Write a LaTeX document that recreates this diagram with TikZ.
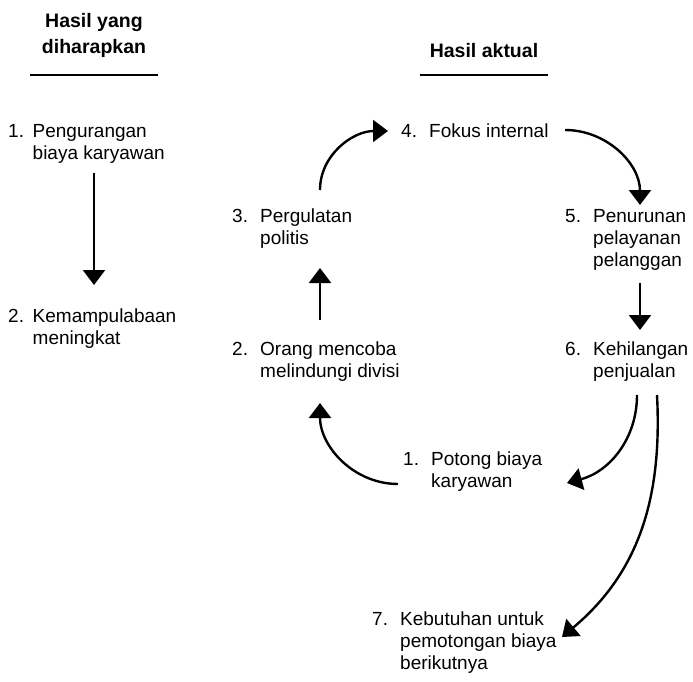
\documentclass[tikz,border=0pt]{standalone}
\usepackage{fontspec}
\setmainfont{Liberation Sans}
\usepackage{tikz}
\usetikzlibrary{arrows.meta, positioning}

% nomor dengan teks menggantung
\newcommand{\numitem}[3][28pt]{%
  \begin{tabular}[t]{@{}p{#1}@{}l@{}}#2&\begin{tabular}[t]{@{}l@{}}#3\end{tabular}\end{tabular}}

\begin{document}
\begin{tikzpicture}[
        x=1pt, y=-1pt,
        % Gaya umum
        every node/.style = {font=\fontsize{19}{22}\selectfont, inner sep=0pt},
        % Judul kolom
        heading/.style = {
            font=\fontsize{19.5}{26}\selectfont\bfseries,
            align=center,
            minimum width=128pt,
            anchor=south
        },
        % Butir bernomor
        item/.style = {anchor=base west},
        % Garis bawah judul
        rule/.style = {line width=2.6pt},
        % Panah
        arrow/.style = {
            -{Triangle[width=22pt,length=15pt]},
            line width=2.4pt
        }
    ]
        \useasboundingbox (0,0) rectangle (693,682);

        % 1. Judul
        \node (hexp) [heading] at (94,58) {Hasil yang\\diharapkan};
        \node (hact) [heading] at (484,58) {Hasil aktual};
        \draw [rule] ([yshift=-17pt]hexp.south west) -- ([yshift=-17pt]hexp.south east);
        \draw [rule] ([yshift=-17pt]hact.south west) -- ([yshift=-17pt]hact.south east);

        % 2. Kolom kiri
        \node (exp1) [item] at (8,138) {\numitem[24.5pt]{1.}{Pengurangan\\biaya karyawan}};
        \node (exp2) [item] at (8,322) {\numitem[24.5pt]{2.}{Kemampulabaan\\meningkat}};

        % 3. Kolom kanan
        \node (act4) [item] at (401,138) {\numitem{4.}{Fokus internal}};
        \node (act3) [item] at (232,222) {\numitem{3.}{Pergulatan\\politis}};
        \node (act5) [item] at (565,222) {\numitem{5.}{Penurunan\\pelayanan\\pelanggan}};
        \node (act2) [item] at (232,355) {\numitem{2.}{Orang mencoba\\melindungi divisi}};
        \node (act6) [item] at (565,355) {\numitem{6.}{Kehilangan\\penjualan}};
        \node (act1) [item] at (403,465) {\numitem{1.}{Potong biaya\\karyawan}};
        \node (act7) [item] at (372,625) {\numitem{7.}{Kebutuhan untuk\\pemotongan biaya\\berikutnya}};

        % 4. Panah
        \draw [arrow] ([shift={(86,35)}]exp1.base west) -- ([shift={(86,-37)}]exp2.base west);
        \draw [arrow] ([shift={(88,-35)}]act2.base west) -- ([shift={(88,46)}]act3.base west);
        \draw [arrow] ([shift={(88,-32)}]act3.base west) to[out=90, in=180] ([shift={(-13,-7)}]act4.base west);
        \draw [arrow] ([shift={(164,-8)}]act4.base west) to[out=0, in=90] ([shift={(75,-17)}]act5.base west);
        \draw [arrow] ([shift={(75,61)}]act5.base west) -- ([shift={(75,-25)}]act6.base west);
        \draw [arrow] ([shift={(72,40)}]act6.base west) to[out=-90, in=15] ([shift={(164,18)}]act1.base west);
        \draw [arrow] ([shift={(92,40)}]act6.base west) to[out=-87, in=40] ([shift={(190,12)}]act7.base west);
        \draw [arrow] ([shift={(-5,19)}]act1.base west) to[out=180, in=-90] ([shift={(88,48)}]act2.base west);
    \end{tikzpicture}
\end{document}
